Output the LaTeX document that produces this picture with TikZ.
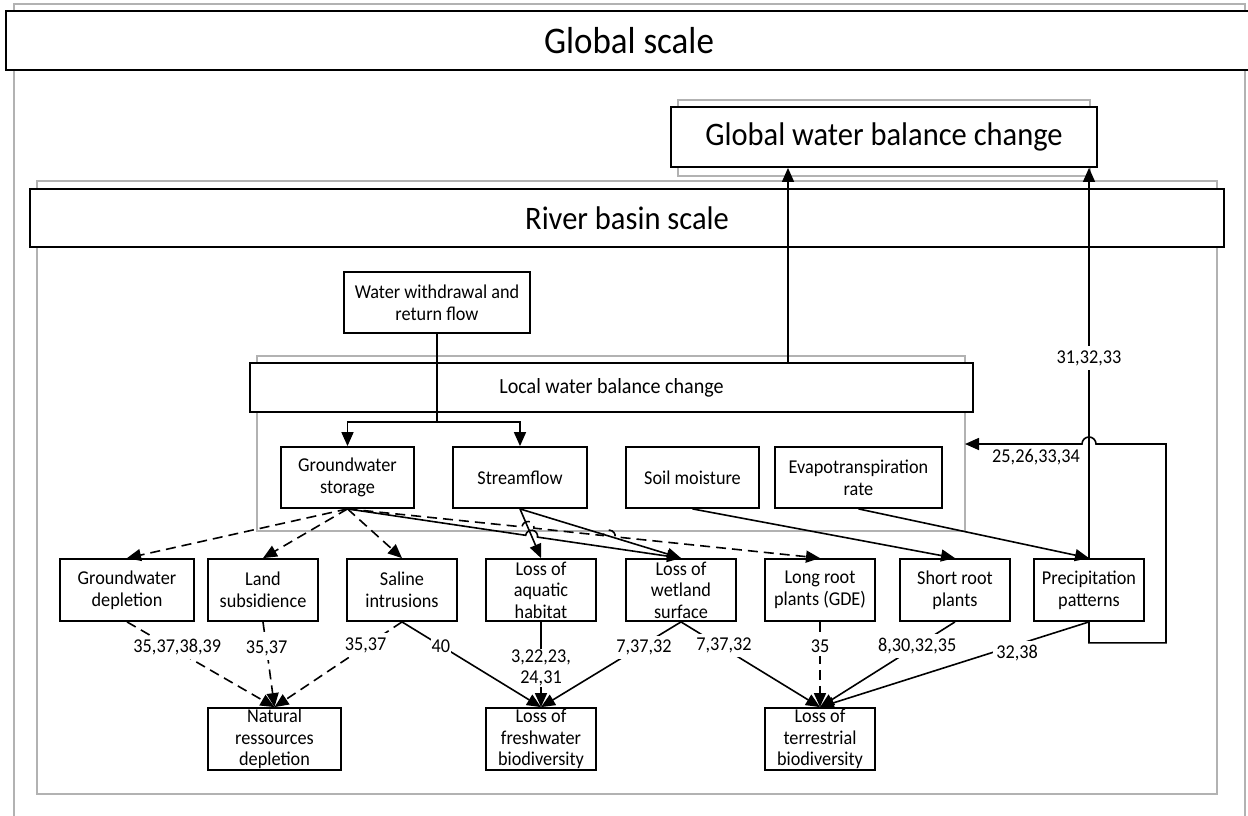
\documentclass[tikz,border=0pt]{standalone}
\usepackage{fontspec}
\setmainfont{Carlito}[FakeStretch=0.93]
\usetikzlibrary{arrows.meta,calc}
\begin{document}
\begin{tikzpicture}[x=1pt,y=-1pt,
  frame/.style={draw=black!30, line width=1.8pt},
  bx/.style={draw=black, fill=white, line width=1.8pt, inner sep=0pt, align=center,
    font=\fontsize{19.6}{21.6}\selectfont},
  lbl/.style={fill=white, inner xsep=1pt, inner ysep=4pt, align=center, font=\fontsize{19.6}{21.6}\selectfont},
  plain/.style={inner sep=0pt, font=\fontsize{19.6}{21.6}\selectfont},
  ln/.style={line width=1.6pt},
  con/.style={ln, -{Triangle[length=14pt,width=12pt]}},
  dsh/.style={con, dash pattern=on 10pt off 6pt},
]
\clip (0,0) rectangle (1248,815);
\fill[white] (0,0) rectangle (1248,815);

% gray frames
\draw[frame] (14,4) rectangle (1245,830);
\node[bx, minimum width=1246, minimum height=59, font=\fontsize{37.6}{44}\selectfont] (global) at (629,40.5) {Global scale};

\draw[frame] (678,100) rectangle (1090,176);
\node[bx, minimum width=426, minimum height=60, font=\fontsize{32.8}{38}\selectfont] (gwb) at (884,137) {Global water balance change};

\draw[frame] (37,181) rectangle (1217,794);
\node[bx, minimum width=1194, minimum height=58, font=\fontsize{32.8}{38}\selectfont] (river) at (627,218) {River basin scale};

\node[bx, minimum width=186, minimum height=61] (ww) at (437,302.5) {Water withdrawal and\\return flow};

\draw[frame] (257,356) rectangle (965,531);
\node[bx, minimum width=723, minimum height=49, font=\fontsize{21.6}{25}\selectfont] (local) at (611.5,387.5) {Local water balance change};

% second row
\node[bx, minimum width=133, minimum height=61] (gws) at (347.5,477.5) {Groundwater\\storage};
\node[bx, minimum width=134, minimum height=61] (sf) at (520,477.5) {Streamflow};
\node[bx, minimum width=133, minimum height=61] (sm) at (692.5,477.5) {Soil moisture};
\node[bx, minimum width=167, minimum height=61] (et) at (858.5,477.5) {Evapotranspiration\\rate};

% third row
\node[bx, minimum width=134, minimum height=62] (gwd) at (127,590) {Groundwater\\depletion};
\node[bx, minimum width=110, minimum height=62] (ls) at (263,590) {Land\\subsidience};
\node[bx, minimum width=110, minimum height=62] (si) at (402,590) {Saline\\intrusions};
\node[bx, minimum width=110, minimum height=62] (lah) at (541,590) {Loss of\\aquatic\\habitat};
\node[bx, minimum width=110, minimum height=62] (lws) at (681,590) {Loss of\\wetland\\surface};
\node[bx, minimum width=110, minimum height=62] (lrp) at (820,590) {Long root\\plants (GDE)};
\node[bx, minimum width=110, minimum height=62] (srp) at (955,590) {Short root\\plants};
\node[bx, minimum width=110, minimum height=62] (pp) at (1089,590) {Precipitation\\patterns};

% bottom row
\node[bx, minimum width=133, minimum height=62] (nrd) at (274.5,739) {Natural\\ressources\\depletion};
\node[bx, minimum width=110, minimum height=62] (lfb) at (541,739) {Loss of\\freshwater\\biodiversity};
\node[bx, minimum width=110, minimum height=62] (ltb) at (820,739) {Loss of\\terrestrial\\biodiversity};

% helper coordinates
\coordinate (j) at (437,422);
\coordinate (lt) at (788,363);
\coordinate (lin) at (965,444);
\coordinate (hp) at (1089,444);
\coordinate (h1) at (531.6,536.2);
\coordinate (h2) at (528.0,527.5);
\coordinate (h3) at (609.2,536.2);

% top connectors
\draw[ln] (ww.south) -- (j);
\draw[con] (j) -| (gws.north);
\draw[con] (j) -| (sf.north);
\draw[con] (lt) -- (lt |- gwb.south);
\draw[con] (pp.north) -- node[lbl, pos=0.513] {31,32,33} (pp.north |- gwb.south);
\draw[con] (pp.south) -- ++(0,21) -| (1166,444) -- ($(hp)+(7,0)$)
  arc[start angle=0, end angle=-180, radius=7] -- (lin);
\node[plain] (lab25) at (1036,457) {25,26,33,34};

% from second row
\draw[dsh] (gws.south) -- (gwd.north);
\draw[dsh] (gws.south) -- (ls.north);
\draw[dsh] (gws.south) -- (si.north);
\draw[con] (gws.south) -- ($(h1)+(188.7:6)$) arc[start angle=188.7, end angle=368.7, radius=6] -- (lws.north);
\draw[dsh] (gws.south) -- ($(h2)+(186.16:6)$) arc[start angle=186.16, end angle=366.16, radius=6]
  -- ($(h3)+(186.16:6)$) arc[start angle=186.16, end angle=366.16, radius=6] -- (lrp.north);
\draw[con] (sf.south) -- (lah.north);
\draw[con] (sf.south) -- (lws.north);
\draw[con] (sm.south) -- (srp.north);
\draw[con] (et.south) -- (pp.north);

% to bottom row
\draw[dsh] (gwd.south) -- node[lbl, pos=0.3, xshift=6pt] {35,37,38,39} (nrd.north);
\draw[dsh] (ls.south) -- node[lbl, pos=0.31] {35,37} (nrd.north);
\draw[dsh] (si.south) -- node[lbl, pos=0.27, xshift=-2pt] {35,37} (nrd.north);
\draw[con] (si.south) -- node[lbl, pos=0.28] {40} (lfb.north);
\draw[con] (lah.south) -- node[lbl, pos=0.54, inner ysep=1pt] {3,22,23,\\24,31} (lfb.north);
\draw[con] (lws.south) -- node[lbl, pos=0.3, xshift=5pt] {7,37,32} (lfb.north);
\draw[con] (lws.south) -- node[lbl, pos=0.28, xshift=4pt] {7,37,32} (ltb.north);
\draw[dsh] (lrp.south) -- node[lbl, pos=0.28] {35} (ltb.north);
\draw[con] (srp.south) -- node[lbl, pos=0.28] {8,30,32,35} (ltb.north);
\draw[con] (pp.south) -- node[lbl, pos=0.36, xshift=25pt, inner xsep=3pt] {32,38} (ltb.north);
\end{tikzpicture}
\end{document}
